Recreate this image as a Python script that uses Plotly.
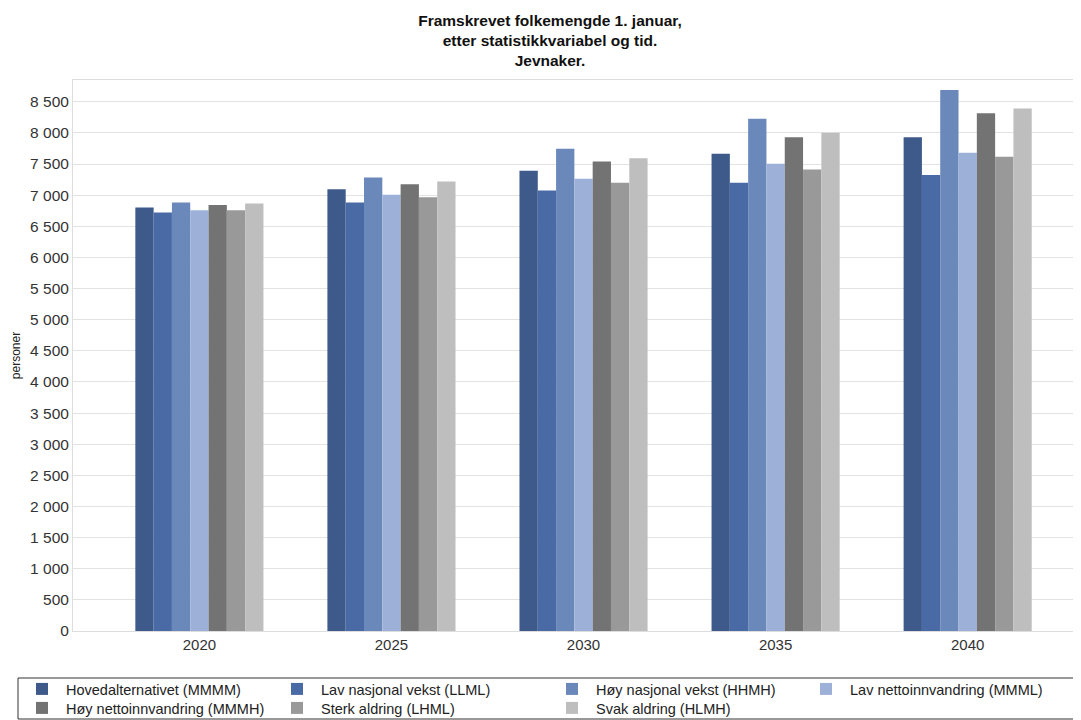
import plotly.graph_objects as go

years = ["2020", "2025", "2030", "2035", "2040"]

series_names = [
    "Hovedalternativet (MMMM)",
    "Lav nasjonal vekst (LLML)",
    "Høy nasjonal vekst (HHMH)",
    "Lav nettoinnvandring (MMML)",
    "Høy nettoinnvandring (MMMH)",
    "Sterk aldring (LHML)",
    "Svak aldring (HLMH)",
]

hovedalternativet = [6802, 7096, 7391, 7664, 7932]
lav_nasjonal = [6722, 6883, 7076, 7198, 7326]
hoy_nasjonal = [6883, 7285, 7744, 8227, 8688]
lav_netto = [6759, 7005, 7262, 7503, 7680]
hoy_netto = [6844, 7177, 7542, 7932, 8314]
sterk_aldring = [6759, 6968, 7198, 7413, 7616]
svak_aldring = [6867, 7220, 7595, 8002, 8394]

series_values = [hovedalternativet, lav_nasjonal, hoy_nasjonal, lav_netto,
                 hoy_netto, sterk_aldring, svak_aldring]

colors = ["#3E5A8B", "#4A6AA6", "#6A88BA", "#9DB0D8", "#737373", "#999999", "#BEBEBE"]

FONT = "Liberation Sans, Arial, sans-serif"

# the page body adds an 8 px margin, so the figure is 8 px smaller
W, H = 1073, 712
ML, MT, MB = 65, 72, 89
PW, PH = W - ML, H - MT - MB

# legend grid (page pixels): left edge of each column, centre of each row
legend_cols = [18, 273, 548, 802]
legend_rows = [689, 708]

fig = go.Figure()
legends = {}
for i, (name, vals, col) in enumerate(zip(series_names, series_values, colors)):
    lid = "legend" if i == 0 else f"legend{i + 1}"
    fig.add_trace(go.Bar(x=years, y=vals, name=name, legend=lid,
                         marker=dict(color=col, line=dict(width=0))))
    legends[lid] = dict(
        orientation="h", xref="container", yref="container",
        x=(legend_cols[i % 4] - 8) / W, xanchor="left",
        y=1 - (legend_rows[i // 4] - 8) / H, yanchor="middle",
        bgcolor="rgba(0,0,0,0)", borderwidth=0,
        font=dict(family=FONT, size=14.5, color="#222222"),
        itemwidth=38,
    )

fig.update_layout(
    width=W, height=H,
    margin=dict(l=ML, r=0, t=MT, b=MB),
    paper_bgcolor="white", plot_bgcolor="white",
    barmode="group", bargap=0.333, bargroupgap=0,
    separators=", ",
    font=dict(family=FONT, color="#333333", size=15),
    title=dict(
        text="<b>Framskrevet folkemengde 1. januar,<br>etter statistikkvariabel og tid.<br>Jevnaker.</b>",
        x=542 / W, xanchor="center", xref="container",
        y=1 - 18 / H, yanchor="top", yref="container",
        font=dict(family=FONT, size=15.5, color="#111111"),
    ),
    xaxis=dict(
        type="category", range=[-0.658, 4.59],
        showgrid=False, showline=True, mirror=True, linecolor="#dddddd", linewidth=1,
        ticks="", tickfont=dict(size=15, color="#333333"),
    ),
    yaxis=dict(
        range=[0, 8850], dtick=500, tickformat=",d",
        showgrid=True, gridcolor="#e3e3e3", gridwidth=1,
        showline=True, linecolor="#dddddd", linewidth=1,
        zeroline=False, ticks="",
        tickfont=dict(size=15.5, color="#333333"),
        title=dict(text="personer", font=dict(size=12, color="#222222"), standoff=6),
    ),
    showlegend=True,
    shapes=[dict(
        type="rect", xref="paper", yref="paper", layer="below",
        x0=(18 - 8 - ML) / PW, x1=(1078 - 8 - ML) / PW,
        y0=(MT + PH - (678 - 8)) / PH, y1=(MT + PH - (719 - 8)) / PH,
        line=dict(color="#333333", width=1), fillcolor="white",
    )],
    **legends,
)

fig.write_html("out.html")
